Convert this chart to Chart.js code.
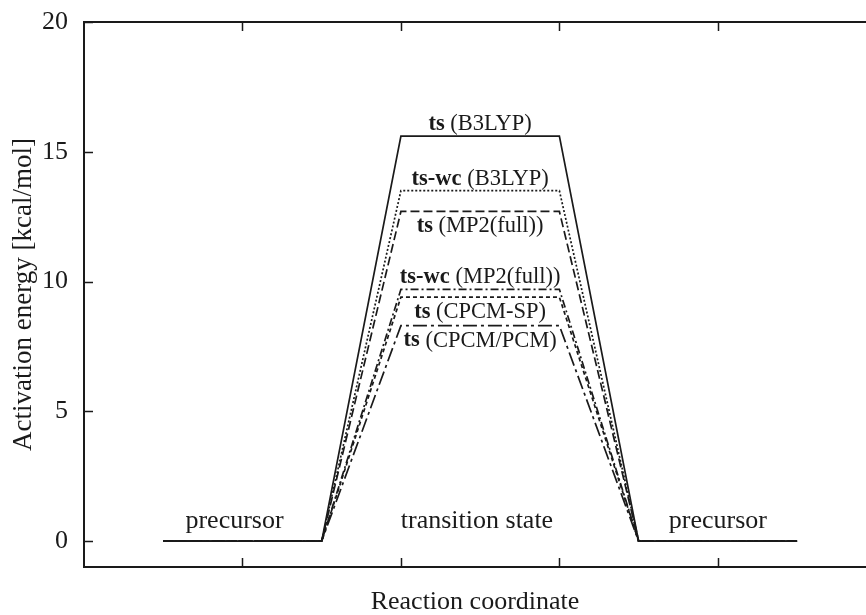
<!DOCTYPE html>
<html>
<head>
<meta charset="utf-8">
<script src="https://cdn.jsdelivr.net/npm/chart.js@4.4.1/dist/chart.umd.min.js"></script>
<style>
  html, body { margin: 0; padding: 0; background: #fff; overflow: hidden; }
  #wrap { width: 866px; height: 615px; }
</style>
</head>
<body>
<div id="wrap"><canvas id="chart"></canvas></div>
<script>
// reaction path: precursor -> transition state -> precursor
const pathX = [0.5, 1.5, 2, 3, 3.5, 4.5]
const tsB3lyp = [0, 0, 15.6, 15.6, 0, 0]
const tsWcB3lyp = [0, 0, 13.5, 13.5, 0, 0]
const tsMp2 = [0, 0, 12.7, 12.7, 0, 0]
const tsWcMp2 = [0, 0, 9.7, 9.7, 0, 0]
const tsCpcmSp = [0, 0, 9.4, 9.4, 0, 0]
const tsCpcmPcm = [0, 0, 8.3, 8.3, 0, 0]

const seriesBold = ['ts', 'ts-wc', 'ts', 'ts-wc', 'ts', 'ts']
const seriesMethod = ['(B3LYP)', '(B3LYP)', '(MP2(full))', '(MP2(full))', '(CPCM-SP)', '(CPCM/PCM)']
const seriesValues = [tsB3lyp, tsWcB3lyp, tsMp2, tsWcMp2, tsCpcmSp, tsCpcmPcm]

const stageLabels = ['precursor', 'transition state', 'precursor']
const xTicks = [1, 2, 3, 4]
const yTicks = [0, 5, 10, 15, 20]

const ink = '#1a1a1a'
const serif = '"Liberation Serif", "Times New Roman", serif'
const dashes = [[], [2, 2], [9, 4], [8, 3, 2, 3], [4, 3], [14, 4, 3, 4]]
const labelSide = ['above', 'above', 'below', 'above', 'below', 'below']

// top border, inward ticks and the text on the plot
const decorations = {
  id: 'decorations',
  afterDraw(chart) {
    const { ctx, chartArea: a, scales: { x, y } } = chart
    ctx.save()
    ctx.strokeStyle = ink
    ctx.lineWidth = 2
    ctx.beginPath()
    ctx.moveTo(a.left - 1, a.top)
    ctx.lineTo(a.right, a.top)
    ctx.stroke()

    ctx.lineWidth = 1.5
    ctx.beginPath()
    xTicks.forEach(v => {
      const px = Math.round(x.getPixelForValue(v)) + 0.5
      ctx.moveTo(px, a.bottom); ctx.lineTo(px, a.bottom - 9)
      ctx.moveTo(px, a.top); ctx.lineTo(px, a.top + 9)
    })
    yTicks.forEach(v => {
      const py = Math.round(y.getPixelForValue(v)) + 0.5
      ctx.moveTo(a.left, py); ctx.lineTo(a.left + 9, py)
    })
    ctx.stroke()

    ctx.fillStyle = ink
    ctx.textBaseline = 'middle'
    ctx.textAlign = 'left'
    const boldFont = 'bold 22.5px ' + serif
    const normFont = '22.5px ' + serif
    const cx = x.getPixelForValue(2.5)
    seriesValues.forEach((vals, i) => {
      const top = y.getPixelForValue(vals[2])
      const ty = labelSide[i] === 'above' ? top - 12 : top + 15
      ctx.font = boldFont
      const w1 = ctx.measureText(seriesBold[i]).width
      ctx.font = normFont
      const rest = ' ' + seriesMethod[i]
      const w2 = ctx.measureText(rest).width
      const sx = cx - (w1 + w2) / 2
      ctx.font = boldFont
      ctx.fillText(seriesBold[i], sx, ty)
      ctx.font = normFont
      ctx.fillText(rest, sx + w1, ty)
    })

    ctx.textAlign = 'center'
    ctx.font = '26px ' + serif
    const zero = y.getPixelForValue(0)
    const stageX = [0.95, 2.48, 4.0]
    stageLabels.forEach((t, i) => {
      ctx.fillText(t, x.getPixelForValue(stageX[i]), zero - 20)
    })
    ctx.restore()
  }
}

const ctx = document.getElementById('chart').getContext('2d')
new Chart(ctx, {
  type: 'line',
  data: {
    datasets: seriesValues.map((vals, i) => ({
      label: seriesBold[i] + ' ' + seriesMethod[i],
      data: pathX.map((px, j) => ({ x: px, y: vals[j] })),
      borderColor: ink,
      borderWidth: 1.7,
      borderDash: dashes[i],
      pointRadius: 0,
      tension: 0,
      fill: false
    }))
  },
  options: {
    responsive: true,
    maintainAspectRatio: false,
    animation: false,
    layout: { padding: { top: 22, right: 0, left: 0, bottom: 0 } },
    plugins: { legend: { display: false }, tooltip: { enabled: false } },
    scales: {
      x: {
        type: 'linear',
        min: 0,
        max: 4.935,
        grid: { display: false },
        border: { color: ink, width: 2 },
        ticks: { display: false },
        title: {
          display: true,
          text: 'Reaction coordinate',
          color: ink,
          font: { family: serif, size: 26, lineHeight: 1 },
          padding: { top: 0, bottom: 0 }
        },
        afterFit: s => { s.height = 48; s.paddingLeft = 0; s.paddingRight = 0 }
      },
      y: {
        min: -1,
        max: 20,
        afterBuildTicks: s => { s.ticks = yTicks.map(v => ({ value: v })) },
        grid: { display: false },
        border: { color: ink, width: 2 },
        ticks: { color: ink, font: { family: serif, size: 26 }, padding: 8 },
        title: {
          display: true,
          text: 'Activation energy [kcal/mol]',
          color: ink,
          font: { family: serif, size: 27 },
          padding: { top: 8, bottom: 0 }
        },
        afterFit: s => { s.width = 84; s.paddingTop = 0; s.paddingBottom = 0 }
      }
    }
  },
  plugins: [decorations]
})
</script>
</body>
</html>
